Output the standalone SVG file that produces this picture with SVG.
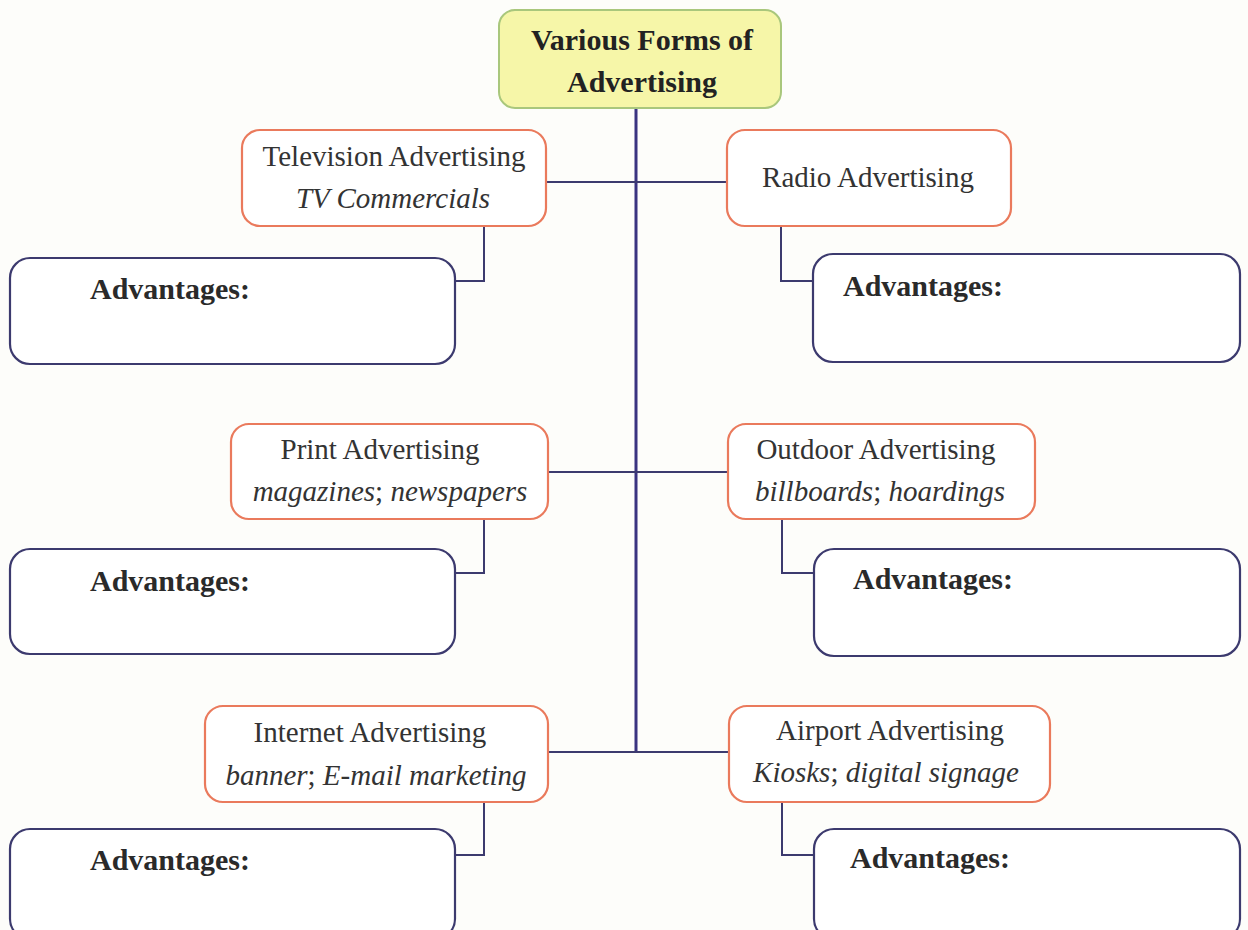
<svg xmlns="http://www.w3.org/2000/svg" width="1248" height="930" viewBox="0 0 1248 930">
<style>
.bg{fill:#fdfdfa}
.title{fill:#f6f6a8;stroke:#a9c77c;stroke-width:2}
.form{fill:#ffffff;stroke:#ea7a5c;stroke-width:2.2}
.adv{fill:#ffffff;stroke:#3c3a6e;stroke-width:2.2}
.conn{fill:none;stroke:#3c3a6e;stroke-width:2}
.trunk{fill:none;stroke:#3a3380;stroke-width:3}
text{font-family:"Liberation Serif","Times New Roman",serif;fill:#333333}
.t{font-size:29px;text-anchor:middle}
.i{font-size:29px;font-style:italic;text-anchor:middle}
.b{font-size:30px;font-weight:bold;text-anchor:middle;fill:#222}
.a{font-size:30px;font-weight:bold;fill:#2a2a2a}
</style>
<rect class="bg" x="0" y="0" width="1248" height="930"/>
<g id="connectors">
<line class="trunk" x1="636" y1="108" x2="636" y2="753"/>
<line class="conn" x1="546" y1="182" x2="727" y2="182"/>
<line class="conn" x1="548" y1="472" x2="728" y2="472"/>
<line class="conn" x1="548" y1="752" x2="729" y2="752"/>
<polyline class="conn" points="484,226 484,281 455,281"/>
<polyline class="conn" points="781,226 781,281 813,281"/>
<polyline class="conn" points="484,519 484,573 455,573"/>
<polyline class="conn" points="782,519 782,573 814,573"/>
<polyline class="conn" points="484,802 484,855 455,855"/>
<polyline class="conn" points="782,802 782,855 814,855"/>
</g>
<g id="title">
<rect class="title" x="499" y="10" width="282" height="98" rx="16"/>
<text class="b" x="642" y="50">Various Forms of</text>
<text class="b" x="642" y="92">Advertising</text>
</g>
<g id="tv">
<rect class="form" x="242" y="130" width="304" height="96" rx="18"/>
<text class="t" x="394" y="166">Television Advertising</text>
<text class="i" x="393" y="208">TV Commercials</text>
</g>
<g id="radio">
<rect class="form" x="727" y="130" width="284" height="96" rx="18"/>
<text class="t" x="868" y="187">Radio Advertising</text>
</g>
<g id="tv-adv">
<rect class="adv" x="10" y="258" width="445" height="106" rx="20"/>
<text class="a" x="90" y="299">Advantages:</text>
</g>
<g id="radio-adv">
<rect class="adv" x="813" y="254" width="427" height="108" rx="20"/>
<text class="a" x="843" y="296">Advantages:</text>
</g>
<g id="print">
<rect class="form" x="231" y="424" width="317" height="95" rx="18"/>
<text class="t" x="380" y="459">Print Advertising</text>
<text class="i" x="390" y="501"><tspan>magazines</tspan><tspan font-style="normal">; </tspan><tspan>newspapers</tspan></text>
</g>
<g id="outdoor">
<rect class="form" x="728" y="424" width="307" height="95" rx="18"/>
<text class="t" x="876" y="459">Outdoor Advertising</text>
<text class="i" x="880" y="501"><tspan>billboards</tspan><tspan font-style="normal">; </tspan><tspan>hoardings</tspan></text>
</g>
<g id="print-adv">
<rect class="adv" x="10" y="549" width="445" height="105" rx="20"/>
<text class="a" x="90" y="591">Advantages:</text>
</g>
<g id="outdoor-adv">
<rect class="adv" x="814" y="549" width="426" height="107" rx="20"/>
<text class="a" x="853" y="589">Advantages:</text>
</g>
<g id="internet">
<rect class="form" x="205" y="706" width="343" height="96" rx="18"/>
<text class="t" x="370" y="742">Internet Advertising</text>
<text class="i" x="376" y="785"><tspan>banner</tspan><tspan font-style="normal">; </tspan><tspan>E-mail marketing</tspan></text>
</g>
<g id="airport">
<rect class="form" x="729" y="706" width="321" height="96" rx="18"/>
<text class="t" x="890" y="740">Airport Advertising</text>
<text class="i" x="886" y="782"><tspan>Kiosks</tspan><tspan font-style="normal">; </tspan><tspan>digital signage</tspan></text>
</g>
<g id="internet-adv">
<rect class="adv" x="10" y="829" width="445" height="110" rx="20"/>
<text class="a" x="90" y="870">Advantages:</text>
</g>
<g id="airport-adv">
<rect class="adv" x="814" y="829" width="426" height="110" rx="20"/>
<text class="a" x="850" y="868">Advantages:</text>
</g>
</svg>
